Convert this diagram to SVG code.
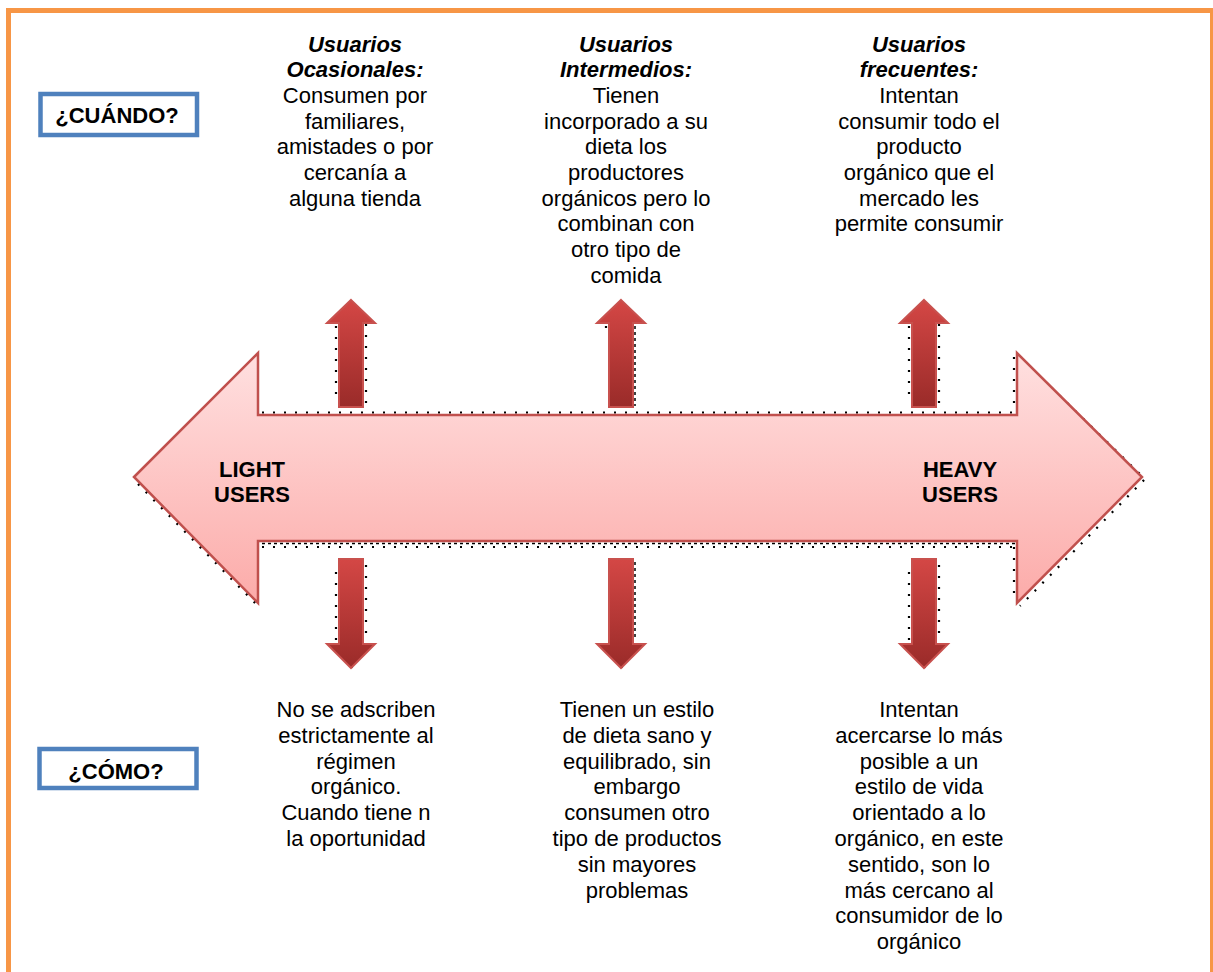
<svg xmlns="http://www.w3.org/2000/svg" width="1213" height="972" viewBox="0 0 1213 972">
<style>
.t{font-family:"Liberation Sans",Arial,sans-serif;font-size:22px;fill:#000;text-anchor:middle}
.h{font-weight:bold;font-style:italic}
.b{font-weight:bold}
.box{fill:#fff;stroke:#4F81BD;stroke-width:4.5}
.sm{fill:url(#gs);stroke:#C8514E;stroke-width:2}
.dot{fill:none;stroke:#000;stroke-width:2.2;stroke-dasharray:2 9}
.dash{fill:none;stroke:#000;stroke-width:1.5;stroke-dasharray:3 3}
</style>
<defs>
<linearGradient id="gb" x1="0" y1="0" x2="0" y2="1">
<stop offset="0" stop-color="#FFE0E0"/>
<stop offset="1" stop-color="#FCABA9"/>
</linearGradient>
<linearGradient id="gs" x1="0" y1="0" x2="0" y2="1">
<stop offset="0" stop-color="#D44745"/>
<stop offset="1" stop-color="#9A2B29"/>
</linearGradient>
</defs>
<rect width="1213" height="972" fill="#fff"/>
<rect id="frame" x="8.5" y="10.5" width="1204" height="1000" fill="none" stroke="#F79646" stroke-width="5"/>

<g id="shadow">
<path class="dot" d="M262 412.5H1013M262 547H1013M1014 357V411M1014 547V600"/>
<path class="dash" d="M262 543.5H1015"/>
<path class="dot" d="M138 484L258 606M1020 357L1145 479L1020 606"/>
</g>

<g id="main-arrow">
<polygon points="134,477 258,353 258,415 1017,415 1017,353 1142,477 1017,603 1017,541 258,541 258,603" fill="url(#gb)" stroke="#C0504D" stroke-width="2.5" stroke-linejoin="miter"/>
<text class="t b" x="252" y="477">LIGHT</text>
<text class="t b" x="252" y="502">USERS</text>
<text class="t b" x="960" y="477">HEAVY</text>
<text class="t b" x="960" y="502">USERS</text>
</g>

<g id="connectors">
<g id="up1">
<path class="dot" d="M336 326V402M366 324V408"/>
<polygon class="sm" points="351,300 375,323 363,323 363,407 339,407 339,323 327,323"/>
</g>
<g id="up2">
<path class="dot" d="M606 326V334"/>
<path class="dash" d="M635 326V406"/>
<polygon class="sm" points="621,300 645,323 633,323 633,407 609,407 609,323 597,323"/>
</g>
<g id="up3">
<path class="dot" d="M909 326V402M939 324V408"/>
<polygon class="sm" points="924,300 948,323 936,323 936,407 912,407 912,323 900,323"/>
</g>
<g id="down1">
<path class="dot" d="M336 572V644M366 565V642M339 650L351 668L366 648"/>
<polygon class="sm" points="339,559 363,559 363,644 375,644 351,668 327,644 339,644"/>
</g>
<g id="down2">
<path class="dash" d="M635 562V640"/>
<path class="dot" d="M609 650L621 668L636 648"/>
<polygon class="sm" points="609,559 633,559 633,644 645,644 621,668 597,644 609,644"/>
</g>
<g id="down3">
<path class="dot" d="M909 572V644M939 565V642M912 650L924 668L939 648"/>
<polygon class="sm" points="912,559 936,559 936,644 948,644 924,668 900,644 912,644"/>
</g>
</g>

<g id="label-cuando">
<rect class="box" x="40.5" y="94" width="156.5" height="41"/>
<text class="t b" x="117" y="123">¿CUÁNDO?</text>
</g>
<g id="label-como">
<rect class="box" x="39.5" y="749" width="157" height="39"/>
<text class="t b" x="116" y="779">¿CÓMO?</text>
</g>

<g id="top-ocasionales">
<text class="t h" x="355" y="51.5">Usuarios</text>
<text class="t h" x="355" y="77.2">Ocasionales:</text>
<text class="t" x="355" y="102.9">Consumen por</text>
<text class="t" x="355" y="128.6">familiares,</text>
<text class="t" x="355" y="154.3">amistades o por</text>
<text class="t" x="355" y="180">cercanía a</text>
<text class="t" x="355" y="205.7">alguna tienda</text>
</g>
<g id="top-intermedios">
<text class="t h" x="626" y="51.5">Usuarios</text>
<text class="t h" x="626" y="77.2">Intermedios:</text>
<text class="t" x="626" y="102.9">Tienen</text>
<text class="t" x="626" y="128.6">incorporado a su</text>
<text class="t" x="626" y="154.3">dieta los</text>
<text class="t" x="626" y="180">productores</text>
<text class="t" x="626" y="205.7">orgánicos pero lo</text>
<text class="t" x="626" y="231.4">combinan con</text>
<text class="t" x="626" y="257.1">otro tipo de</text>
<text class="t" x="626" y="282.8">comida</text>
</g>
<g id="top-frecuentes">
<text class="t h" x="919" y="51.5">Usuarios</text>
<text class="t h" x="919" y="77.2">frecuentes:</text>
<text class="t" x="919" y="102.9">Intentan</text>
<text class="t" x="919" y="128.6">consumir todo el</text>
<text class="t" x="919" y="154.3">producto</text>
<text class="t" x="919" y="180">orgánico que el</text>
<text class="t" x="919" y="205.7">mercado les</text>
<text class="t" x="919" y="231.4">permite consumir</text>
</g>

<g id="bottom-ocasionales">
<text class="t" x="356" y="717">No se adscriben</text>
<text class="t" x="356" y="742.8">estrictamente al</text>
<text class="t" x="356" y="768.6">régimen</text>
<text class="t" x="356" y="794.4">orgánico.</text>
<text class="t" x="356" y="820.2">Cuando tiene n</text>
<text class="t" x="356" y="846">la oportunidad</text>
</g>
<g id="bottom-intermedios">
<text class="t" x="637" y="717">Tienen un estilo</text>
<text class="t" x="637" y="742.8">de dieta sano y</text>
<text class="t" x="637" y="768.6">equilibrado, sin</text>
<text class="t" x="637" y="794.4">embargo</text>
<text class="t" x="637" y="820.2">consumen otro</text>
<text class="t" x="637" y="846">tipo de productos</text>
<text class="t" x="637" y="871.8">sin mayores</text>
<text class="t" x="637" y="897.6">problemas</text>
</g>
<g id="bottom-frecuentes">
<text class="t" x="919" y="717">Intentan</text>
<text class="t" x="919" y="742.8">acercarse lo más</text>
<text class="t" x="919" y="768.6">posible a un</text>
<text class="t" x="919" y="794.4">estilo de vida</text>
<text class="t" x="919" y="820.2">orientado a lo</text>
<text class="t" x="919" y="846">orgánico, en este</text>
<text class="t" x="919" y="871.8">sentido, son lo</text>
<text class="t" x="919" y="897.6">más cercano al</text>
<text class="t" x="919" y="923.4">consumidor de lo</text>
<text class="t" x="919" y="949.2">orgánico</text>
</g>
</svg>
